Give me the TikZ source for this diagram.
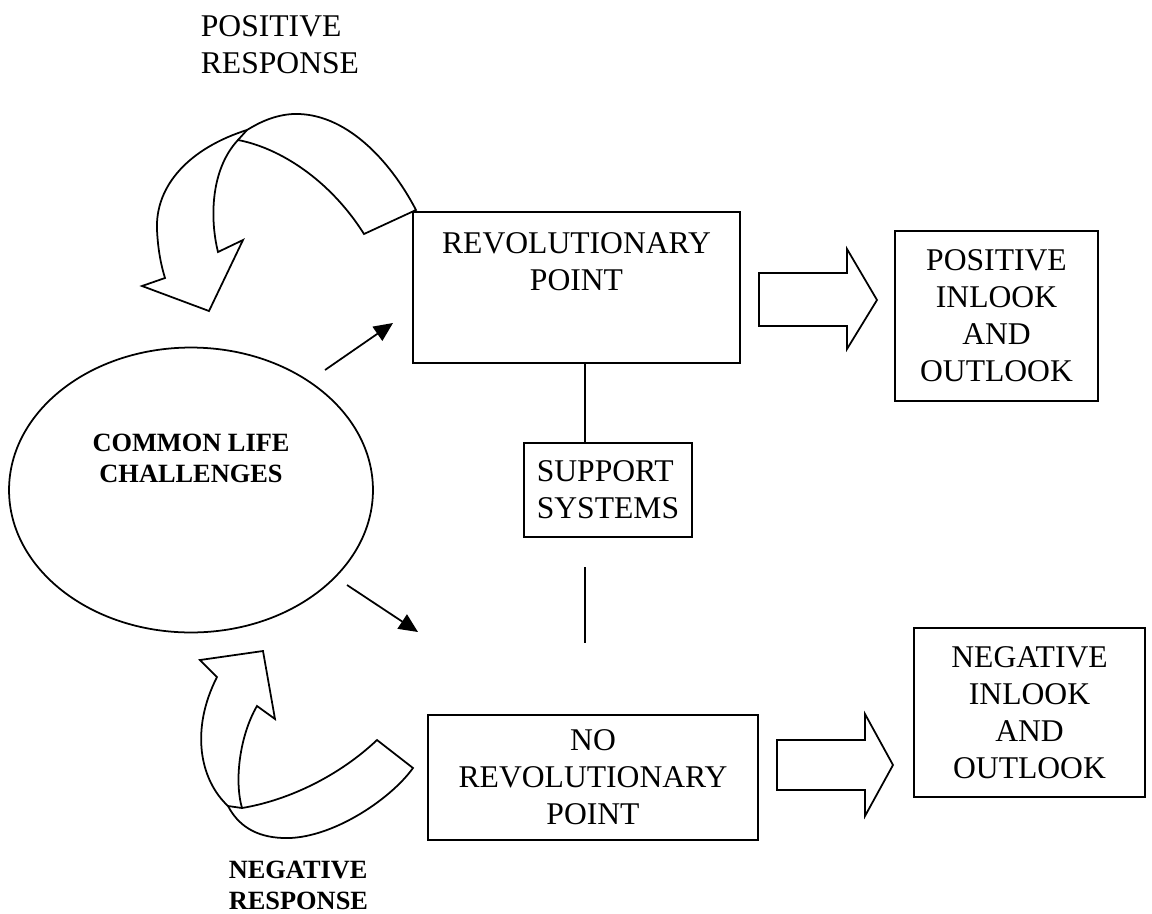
\documentclass[tikz,border=0pt]{standalone}
\usepackage{fontspec}
\setmainfont{Liberation Serif}
\usetikzlibrary{arrows.meta,positioning,shapes.geometric}

\begin{document}
\begin{tikzpicture}[x=0.02cm,y=-0.02cm,line width=1pt,font=\fontsize{18}{21}\selectfont,
  box/.style={draw,inner sep=0pt,align=center},
  txt/.style={inner sep=0pt,align=center},
  boldtxt/.style={inner sep=0pt,font=\fontsize{15}{17.6}\selectfont\bfseries},
  thinarrow/.style={-{Triangle[length=0.38cm,width=0.34cm]}}]
\useasboundingbox (0,0) rectangle (1152,913);
\node[draw,minimum width=6.54cm,minimum height=3.02cm,inner sep=0pt] (rev) at (576.5,287.5) {};
\node[txt,below=0.42cm of rev.north] (revtxt) {REVOLUTIONARY\\POINT};
\node[box,minimum width=4.06cm,minimum height=3.4cm] (pos) at (996.5,316) {POSITIVE\\INLOOK\\AND\\OUTLOOK};
\node[draw,align=left,inner xsep=0.25cm,minimum height=1.88cm] (sup) at (608,490) {SUPPORT\\SYSTEMS};
\node[box,minimum width=6.6cm,minimum height=2.5cm] (norev) at (593,777.5) {NO\\REVOLUTIONARY\\POINT};
\node[box,minimum width=4.62cm,minimum height=3.38cm] (neg) at (1029.5,712.5) {NEGATIVE\\INLOOK\\AND\\OUTLOOK};
\node[draw,ellipse,minimum width=7.28cm,minimum height=5.7cm,inner sep=0pt] (clc) at (191,490) {};
\node[boldtxt,align=center,anchor=north] (clctxt) at (191,433) {COMMON LIFE\\CHALLENGES};
\node[txt,align=left,anchor=north west] (posresp) at (200,15) {POSITIVE\\RESPONSE};
\node[boldtxt,align=left,anchor=north west] (negresp) at (228,860) {NEGATIVE\\RESPONSE};
\coordinate (a1) at (325,370);
\coordinate (a2) at (393,323);
\coordinate (b1) at (347,585);
\coordinate (b2) at (418,632);
\draw[thinarrow] (a1) -- (a2);
\draw[thinarrow] (b1) -- (b2);
\coordinate (v1) at (585,567);
\coordinate (v2) at (585,643);
\draw (rev.south -| v1) -- (sup.north -| v1);
\draw (v1) -- (v2);
\draw (759,273) -- (847,273) -- (847,249) -- (877,300) -- (847,349) -- (847,326) -- (759,326) -- cycle;
\draw (777,740) -- (865,740) -- (865,714) -- (893,765) -- (865,816) -- (865,790) -- (777,790) -- cycle;
\draw (416,210) .. controls (390,160) and (345,112) .. (293,114)
  .. controls (275,115) and (260,122) .. (247,130)
  .. controls (190,148) and (155,185) .. (157,230)
  .. controls (158,250) and (161,265) .. (165,278)
  -- (142,286) -- (209,311) -- (243,240) -- (218,252)
  .. controls (210,220) and (210,170) .. (238,140)
  .. controls (280,148) and (330,180) .. (364,234) -- cycle;
\draw (238,140) -- (247,130);
\draw (377,740) -- (413,768) .. controls (390,800) and (330,840) .. (283,838)
  .. controls (255,837) and (238,825) .. (228,806)
  .. controls (200,780) and (190,730) .. (217,677)
  -- (200,660) -- (263,651) -- (275,719) -- (257,706)
  .. controls (240,735) and (234,780) .. (242,808)
  .. controls (290,800) and (340,775) .. (377,740) -- cycle;
\draw (228,806) -- (242,808);
\end{tikzpicture}
\end{document}
